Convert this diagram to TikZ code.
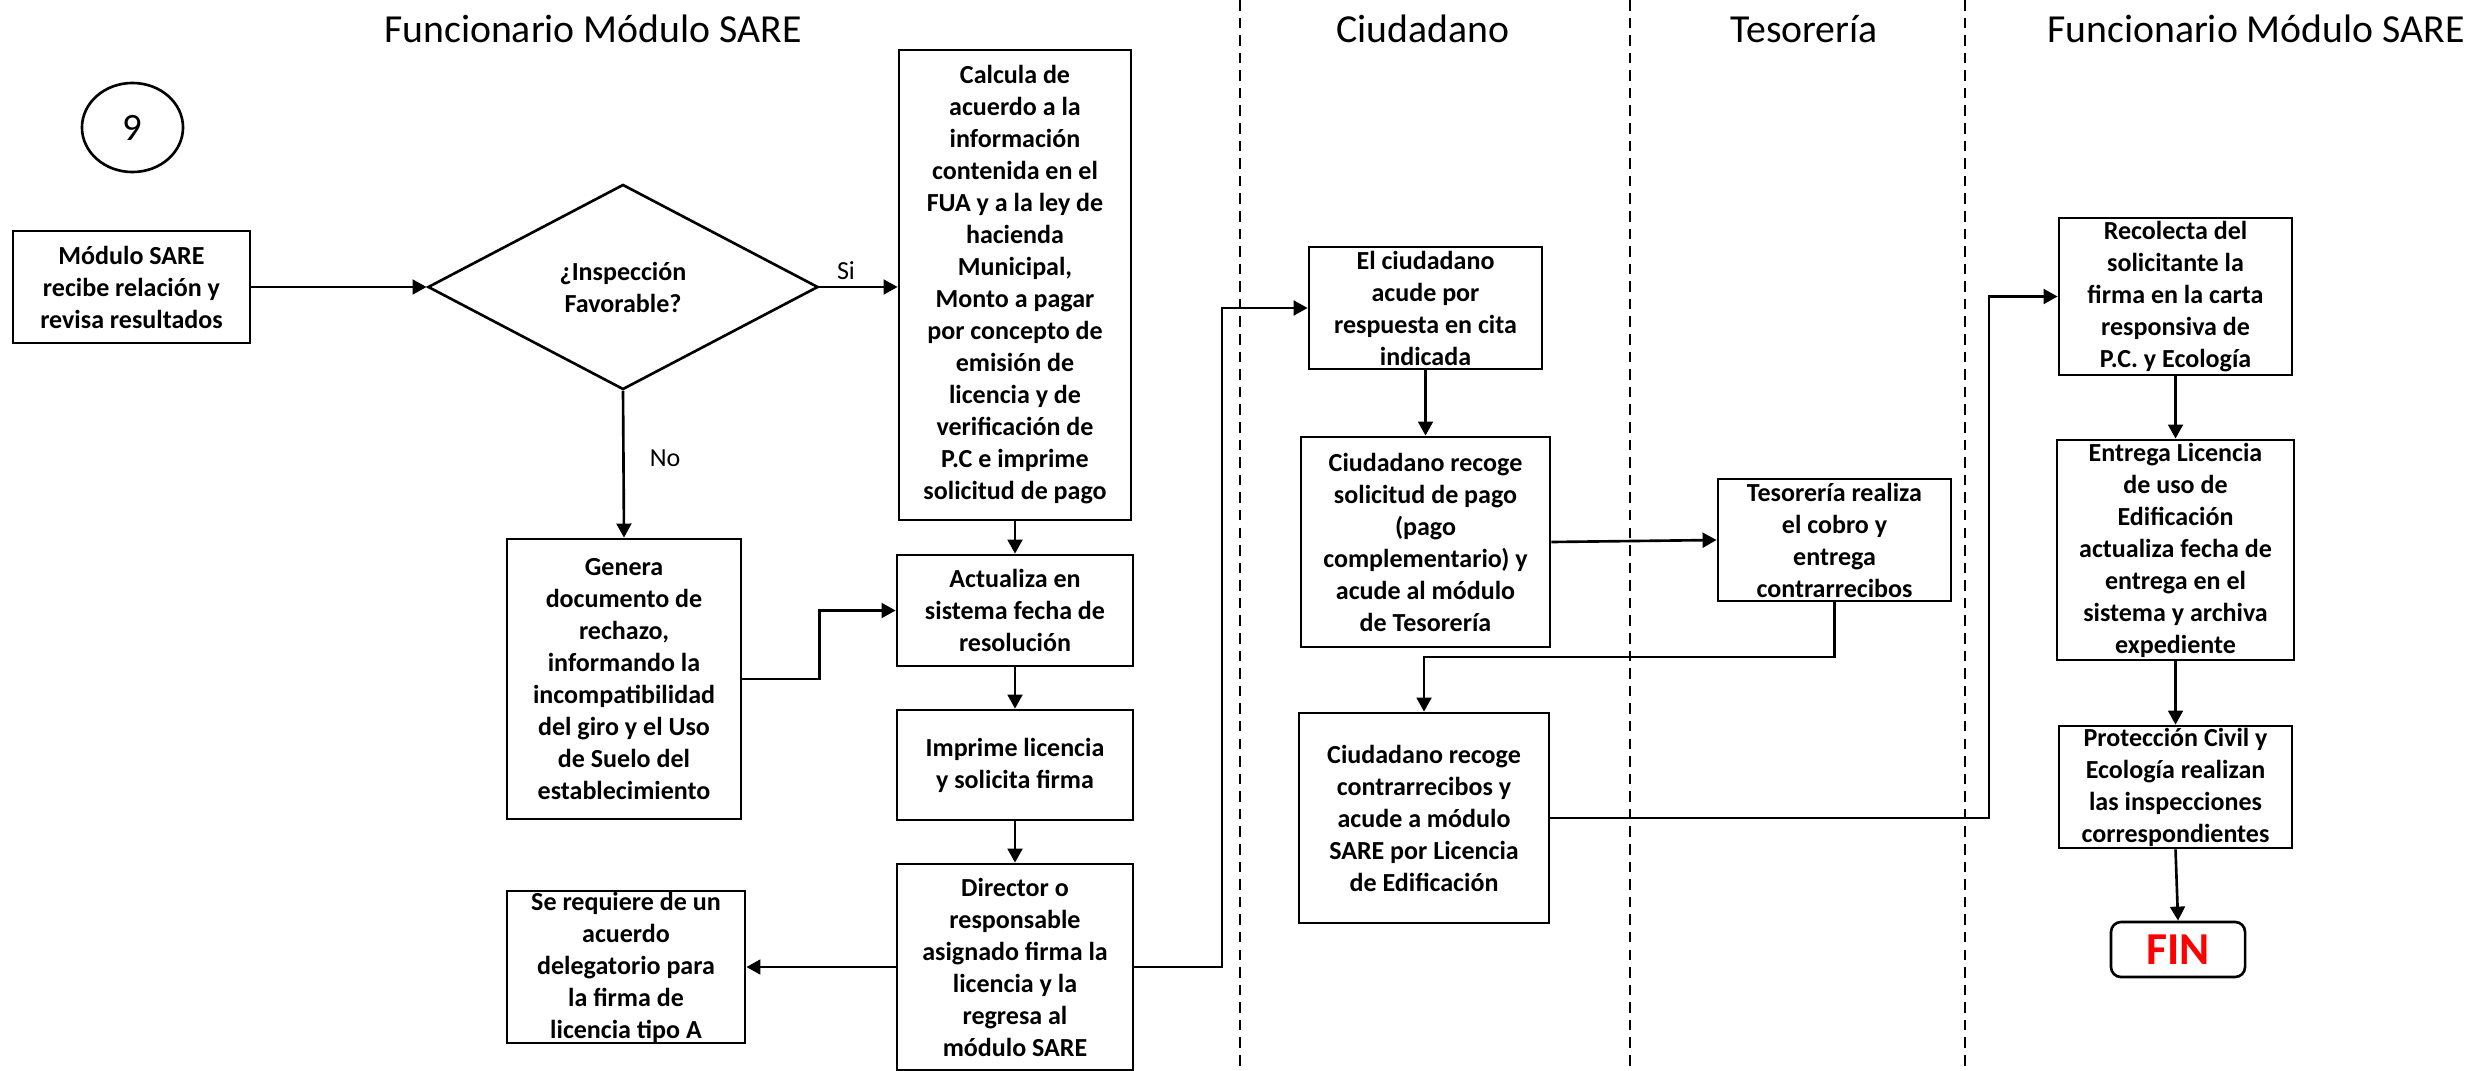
\documentclass[tikz,border=0pt]{standalone}
\usepackage{fontspec}
\setmainfont{Carlito}
\usetikzlibrary{shapes.geometric,arrows.meta}
\begin{document}
\begin{tikzpicture}[x=0.01cm,y=-0.01cm,
  box/.style={draw,line width=0.75pt,align=center,inner sep=0pt,
    font=\fontsize{7.4pt}{9.1pt}\selectfont\bfseries},
  conn/.style={line width=0.75pt,-{Triangle[length=4pt,width=4.2pt]}},
  plain/.style={line width=0.75pt},
  lane/.style={line width=0.45pt,dash pattern=on 3pt off 2pt},
  head/.style={font=\fontsize{11.3pt}{13pt}\selectfont,inner sep=0pt},
  lbl/.style={font=\fontsize{7.4pt}{9pt}\selectfont,inner sep=0pt}]
\useasboundingbox (0,0) rectangle (2486,1070);
\fill[white] (0,0) rectangle (2486,1070);

% headers
\node[head] (h1) at (593,29) {Funcionario Módulo SARE};
\node[head] (h2) at (1423,29) {Ciudadano};
\node[head] (h3) at (1804,29) {Tesorería};
\node[head] (h4) at (2256,29) {Funcionario Módulo SARE};

% lane separators
\coordinate (l1t) at (1240,0); \coordinate (l1b) at (1240,1070);
\coordinate (l2t) at (1630,0); \coordinate (l2b) at (1630,1070);
\coordinate (l3t) at (1965,0); \coordinate (l3b) at (1965,1070);
\draw[lane] (l1t) -- (l1b);
\draw[lane] (l2t) -- (l2b);
\draw[lane] (l3t) -- (l3b);

% nodes
\node[draw,ellipse,line width=0.75pt,minimum width=1.01cm,minimum height=0.89cm,inner sep=0pt,
  font=\fontsize{11pt}{13pt}\selectfont] (circ) at (132.5,127.5) {9};
\node[box,minimum width=2.37cm,minimum height=1.12cm] (recibe) at (131.5,287)
  {Módulo SARE\\recibe relación y\\revisa resultados};
\node[box,diamond,aspect=1.9,minimum width=3.9cm,minimum height=2.05cm] (diam) at (623,287)
  {¿Inspección\\Favorable?};
\node[box,minimum width=2.32cm,minimum height=4.70cm] (calcula) at (1015,285)
  {Calcula de\\acuerdo a la\\información\\contenida en el\\FUA y a la ley de\\hacienda\\Municipal,\\Monto a pagar\\por concepto de\\emisión de\\licencia y de\\verificación de\\P.C e imprime\\solicitud de pago};
\node[box,minimum width=2.34cm,minimum height=2.80cm] (genera) at (624,679)
  {Genera\\documento de\\rechazo,\\informando la\\incompatibilidad\\del giro y el Uso\\de Suelo del\\establecimiento};
\node[box,minimum width=2.36cm,minimum height=1.11cm] (actualiza) at (1015,610.5)
  {Actualiza en\\sistema fecha de\\resolución};
\node[box,minimum width=2.36cm,minimum height=1.10cm] (imprime) at (1015,765)
  {Imprime licencia\\y solicita firma};
\node[box,minimum width=2.36cm,minimum height=2.06cm] (director) at (1015,967)
  {Director o\\responsable\\asignado firma la\\licencia y la\\regresa al\\módulo SARE};
\node[box,minimum width=2.38cm,minimum height=1.52cm] (serequiere) at (626,967)
  {Se requiere de un\\acuerdo\\delegatorio para\\la firma de\\licencia tipo A};
\node[box,minimum width=2.33cm,minimum height=1.22cm] (elciud) at (1425.5,308)
  {El ciudadano\\acude por\\respuesta en cita\\indicada};
\node[box,minimum width=2.49cm,minimum height=2.10cm] (recogesol) at (1425.5,542)
  {Ciudadano recoge\\solicitud de pago\\(pago\\complementario) y\\acude al módulo\\de Tesorería};
\node[box,minimum width=2.33cm,minimum height=1.22cm] (tesor) at (1834.5,540)
  {Tesorería realiza\\el cobro y\\entrega\\contrarrecibos};
\node[box,minimum width=2.50cm,minimum height=2.10cm] (contra) at (1424,818)
  {Ciudadano recoge\\contrarrecibos y\\acude a módulo\\SARE por Licencia\\de Edificación};
\node[box,minimum width=2.33cm,minimum height=1.57cm] (recolecta) at (2175.5,296.5)
  {Recolecta del\\solicitante la\\firma en la carta\\responsiva de\\P.C. y Ecología};
\node[box,minimum width=2.37cm,minimum height=2.20cm] (entrega) at (2175.5,550)
  {Entrega Licencia\\de uso de\\Edificación\\actualiza fecha de\\entrega en el\\sistema y archiva\\expediente};
\node[box,minimum width=2.33cm,minimum height=1.22cm] (proteccion) at (2175.5,787)
  {Protección Civil y\\Ecología realizan\\las inspecciones\\correspondientes};
\node[box,rounded corners=0.1cm,minimum width=1.34cm,minimum height=0.55cm,
  font=\fontsize{13pt}{15pt}\selectfont\bfseries,text=red] (fin) at (2178,949.5) {FIN};

% labels
\node[lbl,anchor=south] (si) at (846,280) {Si};
\node[lbl] (no) at (665,458) {No};

% connectors
\draw[conn] (recibe.east) -- (diam.west);
\draw[conn] (diam.east) -- (diam.east -| calcula.west);
\draw[conn] (diam.south) -- (genera.north);
\draw[conn] (calcula.south) -- (actualiza.north);
\draw[conn] (genera.east) -- ++(77,0) |- (actualiza.west);
\draw[conn] (actualiza.south) -- (imprime.north);
\draw[conn] (imprime.south) -- (director.north);
\draw[conn] (director.west) -- (serequiere.east);
\coordinate (c1) at (1222,967);
\draw[conn] (director.east) -- (c1) |- (elciud.west);
\draw[conn] (elciud.south) -- (recogesol.north);
\draw[conn] (recogesol.east) -- (tesor.west);
\coordinate (c2) at (1834.5,657);
\draw[conn] (tesor.south) -- (c2) -| (contra.north);
\coordinate (c3) at (1989,818);
\draw[conn] (contra.east) -- (c3) |- (recolecta.west);
\draw[conn] (recolecta.south) -- (entrega.north);
\draw[conn] (entrega.south) -- (proteccion.north);
\draw[conn] (proteccion.south) -- (fin.north);
\end{tikzpicture}
\end{document}
